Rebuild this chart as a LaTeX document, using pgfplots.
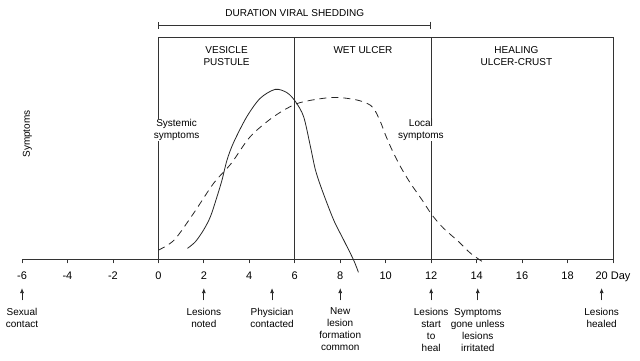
\documentclass[border=0pt]{standalone}
\usepackage{pgfplots}
\pgfplotsset{compat=1.18}
\usepackage{fontspec}
\setmainfont{Liberation Sans}
\usetikzlibrary{arrows.meta}
\tikzset{
  evarrow/.style={line width=0.8pt, black!85, -{Latex[length=5pt,width=4pt]}},
  evlabel/.style={anchor=north, align=center, inner sep=0pt},
}
\begin{document}
\begin{tikzpicture}
\path[use as bounding box] (0pt,0pt) rectangle (640pt,361pt);
\begin{axis}[
  at={(22pt,102pt)}, anchor=south west, scale only axis,
  width=591pt, height=222pt,
  xmin=-6, xmax=20, ymin=0, ymax=10,
  clip=false,
  axis x line*=bottom, axis y line=none,
  axis line style={line width=0.8pt, black!80},
  xtick={-6,-4,...,20},
  xticklabels={-6,-4,-2,0,2,4,6,8,10,12,14,16,18,20 Day},
  tick align=outside,
  major tick length=4.5pt,
  tick style={line width=0.8pt, black!80},
  xticklabel style={anchor=center, yshift=-12.5pt, text depth=0pt, font=\fontsize{11}{13.3}\selectfont},
  every node/.append style={font=\fontsize{11}{13.3}\selectfont, text=black!90},
]
% frame
\draw[line width=0.8pt, black!80] (axis cs:0,0) -- (axis cs:0,10) -- (axis cs:20,10) -- (axis cs:20,0);
\draw[line width=0.8pt, black!80] (axis cs:6,0) -- (axis cs:6,10);
\draw[line width=0.8pt, black!80] (axis cs:12,0) -- (axis cs:12,10);
\node[align=center, fill=white, inner sep=0.5pt] at (axis cs:0.8,5.81) {Systemic\\symptoms};
\node[align=center, fill=white, inner sep=0.5pt] at (axis cs:11.55,5.81) {Local\\symptoms};
% curves
\addplot[smooth, tension=0.5, line width=0.8pt, black!85] coordinates {
(1.28,0.48)(1.63,0.78)(1.99,1.31)(2.29,1.91)(2.58,2.81)(2.8,3.56)(3.02,4.46)(3.31,5.25)(3.89,6.41)(4.48,7.24)(5.14,7.64)(5.66,7.49)(6.03,7.09)(6.39,6.41)(6.69,5.06)(6.91,4.01)(7.2,3.11)(7.71,1.76)(8.15,0.86)(8.59,-0.05)(8.8,-0.6)
};
\addplot[smooth, tension=0.5, line width=0.8pt, black!85, dash pattern=on 7pt off 5pt] coordinates {
(0,0.4)(0.7,0.86)(1.55,2.06)(2.43,3.41)(3.2,4.3)(4.04,5.51)(5.07,6.41)(6.1,7.0)(7.27,7.24)(8.0,7.27)(8.74,7.16)(9.18,7.01)(9.47,6.79)(9.77,6.18)(9.99,5.59)(10.28,4.91)(10.65,4.16)(11.09,3.41)(11.6,2.66)(12.04,1.98)(12.55,1.38)(13.21,0.78)(13.73,0.26)(14.3,-0.15)
};
% bracket
\draw[line width=0.8pt, black!80, {Bar[width=7pt]}-{Bar[width=7pt]}] (axis cs:0,10.54) -- (axis cs:12,10.54);
\node at (axis cs:6,11.1) {DURATION VIRAL SHEDDING};
% headers
\node[align=center] at (axis cs:3,9.12) {VESICLE\\PUSTULE};
\node at (axis cs:9,9.41) {WET ULCER};
\node[align=center] at (axis cs:15.75,9.12) {HEALING\\ULCER-CRUST};
\node[rotate=90] at (axis cs:-5.76,5.63) {Symptoms};
% events
\draw[evarrow] (axis cs:-6,-1.86) -- (axis cs:-6,-1.31);
\node[evlabel] at (axis cs:-6,-2.2) {Sexual\\contact};
\draw[evarrow] (axis cs:2,-1.86) -- (axis cs:2,-1.31);
\node[evlabel] at (axis cs:2,-2.2) {Lesions\\noted};
\draw[evarrow] (axis cs:5,-1.86) -- (axis cs:5,-1.31);
\node[evlabel] at (axis cs:5,-2.2) {Physician\\contacted};
\draw[evarrow] (axis cs:8,-1.86) -- (axis cs:8,-1.31);
\node[evlabel] at (axis cs:8,-2.2) {New\\lesion\\formation\\common};
\draw[evarrow] (axis cs:12,-1.86) -- (axis cs:12,-1.31);
\node[evlabel] at (axis cs:12,-2.2) {Lesions\\start\\to\\heal};
\draw[evarrow] (axis cs:14.05,-1.86) -- (axis cs:14.05,-1.31);
\node[evlabel] at (axis cs:14.05,-2.2) {Symptoms\\gone unless\\lesions\\irritated};
\draw[evarrow] (axis cs:19.5,-1.86) -- (axis cs:19.5,-1.31);
\node[evlabel] at (axis cs:19.5,-2.2) {Lesions\\healed};
\end{axis}
\end{tikzpicture}
\end{document}
